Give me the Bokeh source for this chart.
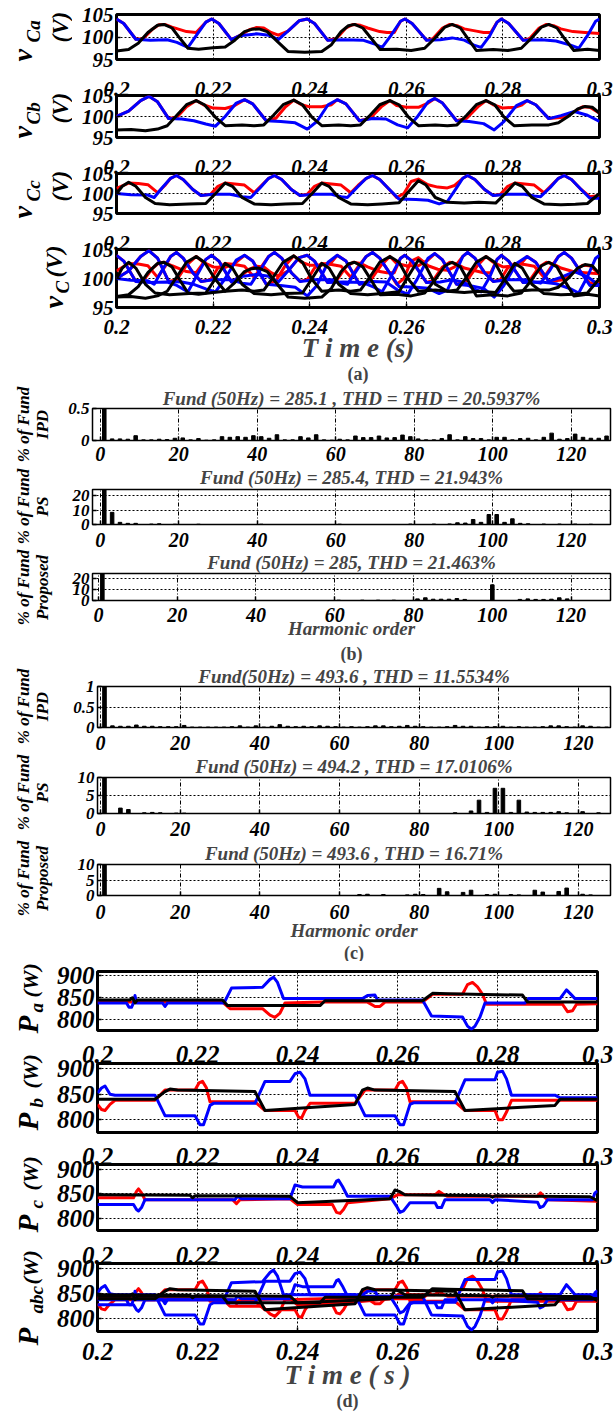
import math
from bokeh.plotting import figure
from bokeh.layouts import column, row
from bokeh.models import Range1d, FixedTicker, LinearAxis, Title
from bokeh.core.properties import value
from bokeh.embed import file_html
from bokeh.resources import INLINE

FONT = "Liberation Serif"
RED, BLUE, BLACK = "#ff0000", "#0000ff", "#000000"

# ---------------- (a) capacitor voltages ----------------
T_TICKS = [0.2, 0.22, 0.24, 0.26, 0.28, 0.3]
T_LABELS = ["0.2", "0.22", "0.24", "0.26", "0.28", "0.3"]

vca_blue_t = [0.200,0.2015,0.204,0.207,0.2105,0.2125,0.2148,0.2165,0.2185,0.2197,0.2212,0.2238,0.2255,0.229,0.2315,0.2335,0.2355,0.2378,0.2395,0.241,0.2437,0.247,0.251,0.2533,0.255,0.2568,0.2588,0.2597,0.2612,0.2642,0.267,0.2695,0.272,0.274,0.2755,0.2773,0.2788,0.2797,0.2812,0.2842,0.288,0.291,0.294,0.2957,0.2975,0.2992,0.300]
vca_blue_v = [104,103,99.5,99.3,99.4,98.8,97.7,100.3,103.3,104,103,99.4,100.3,100.7,100.4,99.4,101.3,103.6,104,103,99.3,99.4,99.3,98.5,97.7,100.3,103.5,104,103,99.3,99.4,99.8,99.3,98.2,97.7,100.3,103.3,104,103,99.3,99.4,99.1,98.2,97.5,100.3,103.5,104]
vca_red_t = [0.200,0.2015,0.204,0.2055,0.2075,0.2088,0.210,0.2115,0.213,0.2145,0.2165,0.2185,0.2197,0.2212,0.2238,0.2255,0.2275,0.229,0.2305,0.232,0.2335,0.2355,0.2378,0.2395,0.241,0.2437,0.2455,0.2475,0.249,0.2505,0.252,0.2545,0.256,0.2575,0.2588,0.2597,0.2612,0.2642,0.2655,0.2675,0.269,0.2705,0.272,0.2745,0.276,0.2775,0.2788,0.2797,0.2812,0.2842,0.2855,0.2875,0.289,0.2905,0.292,0.2945,0.297,0.300]
vca_red_v = [104,103,99.5,99.6,101.8,102.7,102.8,102.2,101.7,101.2,101.0,103.3,104,103,99.4,100.3,101.6,102.1,102.0,101.0,100.4,101.3,103.6,104,103,99.3,99.6,102.0,102.8,102.6,102.0,101.2,101.0,101.0,103.5,104,103,99.3,99.6,102.0,102.8,102.5,101.8,101.3,101.0,101.0,103.3,104,103,99.3,99.6,102.0,102.8,102.5,101.8,101.2,101.0,100.8]
vca_black_t = [0.200,0.2025,0.2045,0.2065,0.2085,0.2098,0.2115,0.2132,0.2148,0.217,0.220,0.2225,0.2245,0.2265,0.228,0.2295,0.2312,0.2335,0.2355,0.239,0.2425,0.2445,0.2465,0.248,0.2493,0.251,0.2528,0.2546,0.258,0.261,0.2638,0.2658,0.268,0.2695,0.2712,0.2728,0.2745,0.278,0.281,0.2838,0.2858,0.288,0.2895,0.2912,0.2928,0.2947,0.2975,0.300]
vca_black_v = [96.9,97.2,98.6,101.0,102.6,102.8,102.0,99.6,97.5,97.3,97.6,97.8,99.3,101.2,101.7,101.8,101.2,98.8,96.8,96.6,96.8,98.3,101.2,102.5,102.8,102.0,99.6,97.2,97.3,97.0,97.5,99.6,102.2,102.8,102.0,99.6,97.0,97.2,97.0,97.5,99.6,102.2,102.8,102.0,99.6,97.0,97.3,97.0]

vcb_blue_t = [0.200,0.2025,0.2050,0.2067,0.2085,0.2108,0.2135,0.216,0.2185,0.2205,0.2225,0.2248,0.2265,0.2282,0.231,0.234,0.237,0.2395,0.2415,0.2438,0.2457,0.2475,0.2503,0.253,0.2558,0.2582,0.2603,0.2622,0.2645,0.2659,0.2675,0.2704,0.273,0.276,0.2782,0.2802,0.2828,0.285,0.2868,0.2895,0.292,0.2948,0.2975,0.300]
vcb_blue_v = [100.0,101.3,103.8,104.8,103.5,99.5,99.4,99.0,98.2,97.7,100.0,103.2,104.0,103.0,99.0,98.8,98.5,97.0,98.8,102.8,104.0,103.0,99.0,99.5,99.4,98.0,97.3,99.8,103.5,104.3,103.2,99.0,98.8,98.3,96.8,98.8,102.6,103.8,102.8,99.5,100.2,101.2,100.3,98.8]
vcb_red_t = [0.200,0.2025,0.2050,0.2067,0.2085,0.2108,0.2125,0.2145,0.2165,0.218,0.220,0.2225,0.2243,0.2265,0.2282,0.231,0.233,0.235,0.2367,0.2383,0.240,0.2425,0.2445,0.2457,0.2475,0.2503,0.2525,0.2548,0.2566,0.258,0.260,0.2625,0.2645,0.2659,0.2675,0.2704,0.2725,0.2748,0.2765,0.278,0.280,0.2825,0.284,0.285,0.2868,0.2895,0.2925,0.295,0.2965,0.298,0.300]
vcb_red_v = [100.0,101.3,103.8,104.8,103.5,99.5,99.8,102.3,103.8,102.8,102.0,101.9,102.5,104.0,103.0,99.0,99.6,102.3,103.9,102.8,102.3,102.3,102.8,104.0,103.0,99.0,99.6,102.3,103.8,102.6,102.2,102.2,103.2,104.3,103.2,99.0,99.6,102.3,103.8,102.8,102.0,102.2,102.8,103.8,102.8,99.5,99.8,101.3,102.3,102.2,100.8]
vcb_black_t = [0.200,0.203,0.206,0.2085,0.2105,0.2125,0.2145,0.2165,0.2182,0.2205,0.2225,0.226,0.2285,0.2305,0.2325,0.2345,0.2367,0.2385,0.2405,0.2425,0.246,0.2485,0.2505,0.2525,0.2545,0.2566,0.2585,0.2605,0.2625,0.266,0.2685,0.2705,0.2725,0.2745,0.2765,0.2783,0.2803,0.2823,0.286,0.2895,0.2915,0.2935,0.2955,0.297,0.2985,0.300]
vcb_black_v = [96.8,96.9,96.6,97.0,97.8,100.3,102.8,103.8,102.8,99.8,97.8,98.0,97.8,98.0,100.3,102.8,103.9,102.8,99.8,97.8,98.0,97.8,98.0,100.3,102.8,103.8,102.8,99.8,97.8,98.0,97.8,98.0,100.3,102.8,103.8,102.8,99.8,97.8,98.0,98.0,98.5,100.0,101.8,102.4,102.2,100.8]

vcc_blue_t = [0.200,0.203,0.2065,0.2078,0.2095,0.2112,0.2124,0.2138,0.2158,0.2175,0.220,0.2235,0.226,0.2278,0.2298,0.2315,0.2327,0.2342,0.2362,0.238,0.241,0.2445,0.2465,0.2478,0.2498,0.2517,0.253,0.2545,0.2565,0.2585,0.262,0.2645,0.2668,0.2685,0.2703,0.2717,0.2727,0.2742,0.2762,0.278,0.281,0.2845,0.2865,0.2878,0.2898,0.2915,0.2927,0.2942,0.2962,0.298,0.300]
vcc_blue_v = [100.0,99.7,99.6,99.0,101.5,103.8,104.5,103.5,101.0,99.5,99.8,99.8,99.2,99.0,101.5,103.8,104.5,103.5,101.0,99.5,99.8,99.8,99.2,99.0,101.5,103.8,104.5,103.5,101.0,98.6,98.5,98.3,97.4,98.0,101.2,103.8,104.5,103.5,101.0,99.5,99.8,99.8,99.4,99.2,101.5,103.8,104.5,103.5,101.0,98.8,98.8]
vcc_red_t = [0.200,0.2025,0.2045,0.2065,0.2085,0.2100,0.2112,0.2124,0.2138,0.2158,0.2175,0.2195,0.2210,0.2225,0.2245,0.2265,0.2285,0.2300,0.2315,0.2327,0.2342,0.2362,0.2380,0.2395,0.2410,0.2425,0.2445,0.2465,0.2485,0.2500,0.2517,0.2530,0.2545,0.2565,0.2580,0.2595,0.2610,0.2625,0.2645,0.2665,0.2685,0.2700,0.2717,0.2727,0.2742,0.2762,0.2780,0.2795,0.2810,0.2825,0.2845,0.2865,0.2885,0.2900,0.2915,0.2927,0.2942,0.2962,0.2980,0.3000]
vcc_red_v = [101.3,102.6,102.5,102.2,100.2,102.0,103.8,104.5,103.5,101.0,99.5,99.8,101.8,102.6,102.4,102.1,100.2,102.0,103.8,104.5,103.5,101.0,99.5,99.8,101.8,102.6,102.4,102.1,100.2,102.0,103.8,104.5,103.5,101.0,99.0,100.0,103.0,103.6,102.2,101.6,101.4,102.0,103.8,104.5,103.5,101.0,99.5,99.8,101.8,102.6,102.4,102.1,100.2,102.0,103.8,104.5,103.5,101.0,99.2,99.5]
vcc_black_t = [0.200,0.2012,0.2025,0.2040,0.2060,0.2080,0.2110,0.2150,0.2185,0.2205,0.2225,0.2240,0.2260,0.2285,0.2320,0.2350,0.2385,0.2405,0.2425,0.2440,0.2460,0.2485,0.2520,0.2550,0.2585,0.2605,0.2625,0.2640,0.2660,0.2685,0.2720,0.2750,0.2785,0.2805,0.2825,0.2840,0.2860,0.2885,0.2920,0.2950,0.2975,0.2990,0.3000]
vcc_black_v = [100.0,101.8,102.8,101.8,99.0,97.5,97.2,97.4,97.5,100.0,102.6,101.8,99.0,97.4,97.2,97.4,97.5,100.0,102.6,101.8,99.0,97.4,97.2,97.4,97.7,100.5,103.2,102.2,99.0,97.8,97.6,97.8,97.6,100.0,102.6,101.8,99.0,97.4,97.2,97.3,97.5,99.0,100.0]

# ---------------- (b) / (c) harmonic spectra ----------------
H_TICKS = [0, 20, 40, 60, 80, 100, 120]
ipd_b_h = [1,3,5,7,9,11,13,15,17,19,21,23,25,27,29,31,33,35,37,39,41,43,45,47,49,51,53,55,57,59,61,63,65,67,69,71,73,75,77,79,81,83,85,87,89,91,93,95,97,99,101,103,105,107,109,111,113,115,117,119,121,123,125,127,129]
ipd_b_v = [100,.025,.025,.02,.075,.01,.01,.02,.015,.035,.04,.01,.03,.005,.01,.06,.05,.06,.05,.075,.06,.035,.09,.01,.01,.06,.04,.09,.01,.005,.02,.01,.07,.045,.045,.07,.04,.045,.085,.06,.025,.01,.01,.03,.09,.01,.06,.03,.03,.01,.05,.05,.01,.03,.035,.01,.05,.115,.02,.03,.1,.05,.035,.035,.07]
ps_b_h = [1,3,5,7,9,13,15,19,25,41,61,79,85,89,91,93,95,97,99,101,103,105,107,109,113,117,121,125]
ps_b_v = [100,8.5,1.5,0.8,0.8,0.3,0.5,0.2,0.2,0.2,0.2,0.3,0.3,0.4,1.2,1.0,3.5,1.5,7.0,7.0,1.5,4.0,0.8,0.5,0.3,0.3,0.3,0.2]
pr_b_h = [1,61,67,71,75,81,83,85,87,89,91,93,100,107,109,111,113,115,117,119]
pr_b_v = [100,0.3,0.3,0.3,0.3,1.5,2.5,1.2,1.2,1.2,1.8,1.0,14.5,1.0,1.5,1.0,1.0,1.2,2.5,1.5]
ipd_c_h = [1,3,5,7,9,11,13,15,17,19,21,23,25,27,29,31,33,35,37,39,41,43,45,47,49,51,53,55,57,59,61,63,65,67,69,71,73,75,77,79,81,83,85,87,89,91,93,95,97,99,101,103,105,107,109,111,113,115,117,119,121,123,125,127,129]
ipd_c_v = [100,.04,.03,.03,.06,.03,.03,.02,.02,.02,.05,.01,.01,.01,.01,.01,.02,.04,.01,.04,.01,.03,.07,.03,.02,.03,.02,.04,.03,.02,.01,.02,.01,.02,.04,.04,.02,.03,.05,.03,.02,.01,.01,.02,.05,.03,.03,.01,.02,.02,.03,.01,.02,.01,.01,.02,.04,.04,.02,.01,.04,.03,.01,.01,.06]
ps_c_h = [1,5,7,11,13,15,19,21,89,93,95,97,99,101,103,105,107,109,111,113,115,117,121,125]
ps_c_v = [100,1.5,1.1,0.2,0.3,0.2,0.1,0.1,0.2,0.7,3.7,0.3,7.0,7.0,0.3,3.7,0.4,0.3,0.3,0.3,0.5,0.2,0.5,0.2]
pr_c_h = [1,65,67,71,77,79,81,85,87,91,93,97,99,103,105,109,111,115,117,121,123,129]
pr_c_v = [100,0.3,0.4,0.3,0.2,0.4,0.3,2.3,1.2,1.0,1.7,0.3,0.4,0.3,0.2,1.7,1.1,1.3,2.4,0.4,0.2,0.3]

# ---------------- (d) powers ----------------
P_TICKS = [800, 850, 900]
pa_black_t = [0.200,0.2065,0.2070,0.2075,0.2080,0.2250,0.2260,0.2445,0.2455,0.2650,0.2670,0.2700,0.2850,0.2860,0.300]
pa_black_v = [845,845,850,838,845,845,832,832,843,843,860,859,856,840,840]
pa_red_t = [0.200,0.2250,0.2265,0.2330,0.2345,0.2355,0.2365,0.2375,0.2450,0.2540,0.2555,0.2565,0.2575,0.2650,0.2670,0.2730,0.2740,0.2750,0.2760,0.2770,0.2778,0.2930,0.2940,0.2950,0.2958,0.300]
pa_red_v = [840,840,825,825,810,805,815,838,840,840,830,830,840,840,858,858,880,885,875,858,835,835,818,820,835,836]
pa_blue_t = [0.200,0.2058,0.2063,0.2068,0.2072,0.2075,0.2078,0.2130,0.2135,0.2140,0.2253,0.2268,0.2330,0.2345,0.2352,0.2360,0.2372,0.2530,0.2540,0.2555,0.2560,0.2650,0.2668,0.2730,0.2740,0.2748,0.2755,0.2765,0.2775,0.2855,0.2862,0.2925,0.2938,0.2945,0.2955,0.300]
pa_blue_v = [838,838,828,828,838,855,838,838,830,838,838,872,874,892,897,885,848,848,855,856,845,845,808,806,785,778,785,806,838,838,848,848,868,860,848,848]
pb_blue_t = [0.200,0.2008,0.2015,0.2025,0.2035,0.2115,0.2135,0.2195,0.2205,0.2212,0.2225,0.2232,0.2315,0.2335,0.2385,0.2395,0.2405,0.2415,0.2425,0.2515,0.2535,0.2595,0.2605,0.2612,0.2625,0.2632,0.2715,0.2735,0.2795,0.2800,0.2810,0.2818,0.2828,0.2915,0.2925,0.300]
pb_blue_v = [852,862,866,850,848,848,808,808,790,790,828,832,832,875,875,890,893,880,848,848,808,808,790,790,830,833,833,878,878,893,895,880,848,848,843,843]
pb_red_t = [0.200,0.2008,0.2015,0.2025,0.2035,0.2115,0.2135,0.2195,0.2203,0.2210,0.2218,0.2225,0.2315,0.2335,0.2395,0.2402,0.2408,0.2415,0.2425,0.2515,0.2535,0.2595,0.2603,0.2610,0.2618,0.2625,0.2715,0.2735,0.2795,0.2802,0.2810,0.2818,0.2828,0.300]
pb_red_v = [830,820,818,830,838,838,858,858,872,875,862,835,835,818,818,805,803,818,832,832,858,858,872,875,862,835,835,818,818,800,800,815,838,838]
pb_black_t = [0.200,0.2115,0.2135,0.2145,0.2160,0.2315,0.2335,0.2515,0.2530,0.2540,0.2555,0.2715,0.2735,0.2915,0.2925,0.300]
pb_black_v = [840,840,855,860,858,855,818,830,858,862,858,855,818,828,840,840]
pc_black_t = [0.200,0.2185,0.2190,0.2195,0.2385,0.2400,0.2585,0.2595,0.2603,0.2615,0.2785,0.2790,0.2795,0.2985,0.300]
pc_black_v = [848,847,842,846,845,832,840,858,855,848,846,843,846,844,836]
pc_red_t = [0.200,0.2072,0.2078,0.2082,0.2088,0.2095,0.2270,0.2278,0.2285,0.2385,0.2400,0.2470,0.2478,0.2485,0.2492,0.2500,0.2585,0.2600,0.2675,0.2683,0.2690,0.2700,0.2880,0.2886,0.2892,0.2900,0.300]
pc_red_v = [842,842,855,860,852,838,838,830,838,840,828,828,812,810,818,832,840,848,848,855,850,845,845,852,845,838,835]
pc_blue_t = [0.200,0.2072,0.2078,0.2082,0.2088,0.2095,0.2275,0.2280,0.2288,0.2385,0.2395,0.2410,0.2472,0.2478,0.2482,0.2490,0.2500,0.2585,0.2598,0.2605,0.2612,0.2625,0.2675,0.2680,0.2688,0.2695,0.2785,0.2790,0.2795,0.2880,0.2885,0.2892,0.2900,0.2990,0.2995,0.300]
pc_blue_v = [828,828,818,815,822,838,838,845,840,840,868,864,864,876,878,865,845,845,825,812,815,832,832,822,822,838,838,832,838,833,822,825,838,838,852,856]


def style_text_axis(ax, size, standoff):
    ax.axis_line_color = None
    ax.major_tick_in = 4
    ax.major_tick_out = 0
    ax.major_tick_line_color = "black"
    ax.major_tick_line_width = 1.5
    ax.minor_tick_line_color = None
    ax.major_label_text_font = FONT
    ax.major_label_text_font_style = "bold italic"
    ax.major_label_text_font_size = f"{size}px"
    ax.major_label_text_color = "black"
    ax.major_label_standoff = standoff


def base_fig(w, h, top, bottom, left, right, xr, yr):
    p = figure(width=w, height=h, x_range=Range1d(*xr), y_range=Range1d(*yr),
               output_backend="svg", toolbar_location=None,
               min_border_top=top, min_border_bottom=bottom,
               min_border_left=left, min_border_right=right)
    p.background_fill_color = "white"
    p.border_fill_color = "white"
    p.outline_line_color = "black"
    return p


def label_fig(w, h, items):
    """Column of rotated y-axis label texts (positions in pixels from the panel top-left)."""
    p = figure(width=w, height=h, x_range=Range1d(0, w), y_range=Range1d(0, h),
               output_backend="svg", toolbar_location=None,
               x_axis_location=None, y_axis_location=None, min_border=0)
    p.grid.visible = False
    p.outline_line_color = None
    p.background_fill_color = "white"
    p.border_fill_color = "white"
    for (txt, x, y, size, align) in items:
        p.text(x=[x], y=[h - y], text=[txt], angle=math.pi / 2,
               text_font=value(FONT), text_font_style="bold italic",
               text_font_size=value(f"{size}px"), text_align=align,
               text_baseline="alphabetic", text_color="black")
    return p


def time_fig(w, h, top, bottom, left, right, yr, yticks, tick_px, ytick_px, curves,
             above_standoff=None, below_standoff=None, xlabel=None, xlabel_px=26,
             xlabel_standoff=0, caption=None, caption_standoff=0):
    p = base_fig(w, h, top, bottom, left, right, (0.2, 0.3), yr)
    p.outline_line_width = 3
    xt = FixedTicker(ticks=T_TICKS)
    overrides = dict(zip(T_TICKS, T_LABELS))
    p.xaxis.ticker = xt
    p.xaxis.major_label_overrides = overrides
    p.xgrid.ticker = xt
    style_text_axis(p.xaxis[0], tick_px, below_standoff if below_standoff is not None else 0)
    if below_standoff is None:
        p.xaxis.visible = False
    if xlabel:
        p.xaxis.axis_label = xlabel
        p.xaxis.axis_label_text_font = FONT
        p.xaxis.axis_label_text_font_style = "bold italic"
        p.xaxis.axis_label_text_font_size = f"{xlabel_px}px"
        p.xaxis.axis_label_standoff = xlabel_standoff
    if above_standoff is not None:
        ax = LinearAxis(ticker=FixedTicker(ticks=T_TICKS), major_label_overrides=overrides)
        style_text_axis(ax, tick_px, above_standoff)
        ax.major_tick_in = 0
        p.add_layout(ax, "above")
    yt = FixedTicker(ticks=yticks)
    p.yaxis.ticker = yt
    p.ygrid.ticker = yt
    style_text_axis(p.yaxis[0], ytick_px, 3)
    for g in (p.xgrid[0], p.ygrid[0]):
        g.grid_line_color = "black"
        g.grid_line_dash = "2 2"
        g.grid_line_width = 1
        g.grid_line_alpha = 1
    for (t, v, c) in curves:
        p.line(t, v, line_color=c, line_width=3, line_join="round")
    if caption:
        p.add_layout(Title(text=caption, align="center", text_font=FONT,
                           text_font_style="bold", text_font_size="18px",
                           standoff=caption_standoff), "below")
    return p


def bar_fig(w, h, top, bottom, left, xr, yr, yticks, ylabels, title, title_standoff,
            hs, vs, tick_standoff, xlabel=None, xlabel_standoff=0, caption=None,
            caption_standoff=0):
    p = base_fig(w, h, top, bottom, left, 4, xr, yr)
    p.outline_line_width = 1.5
    p.title.text = title
    p.title.align = "center"
    p.title.text_font = FONT
    p.title.text_font_style = "bold italic"
    p.title.text_font_size = "19px"
    p.title.standoff = title_standoff
    xt = FixedTicker(ticks=H_TICKS)
    p.xaxis.ticker = xt
    p.xgrid.ticker = xt
    style_text_axis(p.xaxis[0], 20, tick_standoff)
    yt = FixedTicker(ticks=yticks)
    p.yaxis.ticker = yt
    p.ygrid.ticker = yt
    p.yaxis.major_label_overrides = dict(zip(yticks, ylabels))
    style_text_axis(p.yaxis[0], 17, 3)
    p.xgrid.grid_line_dash = "4 2 1 2"
    p.ygrid.grid_line_dash = "2 2"
    for g in (p.xgrid[0], p.ygrid[0]):
        g.grid_line_color = "black"
        g.grid_line_width = 1
        g.grid_line_alpha = 1
    p.vbar(x=hs, top=vs, bottom=0, width=0.9, fill_color="black", line_color="black")
    if xlabel:
        p.xaxis.axis_label = xlabel
        p.xaxis.axis_label_text_font = FONT
        p.xaxis.axis_label_text_font_style = "bold italic"
        p.xaxis.axis_label_text_font_size = "19px"
        p.xaxis.axis_label_standoff = xlabel_standoff
    if caption:
        p.add_layout(Title(text=caption, align="center", text_font=FONT,
                           text_font_style="bold", text_font_size="18px",
                           standoff=caption_standoff), "below")
    return p


def by_colour(groups):
    out = []
    for col in (RED, BLUE, BLACK):
        out += [c for g in groups for c in g if c[2] == col]
    return out


VA = [(vca_red_t, vca_red_v, RED), (vca_blue_t, vca_blue_v, BLUE), (vca_black_t, vca_black_v, BLACK)]
VB = [(vcb_red_t, vcb_red_v, RED), (vcb_blue_t, vcb_blue_v, BLUE), (vcb_black_t, vcb_black_v, BLACK)]
VC = [(vcc_red_t, vcc_red_v, RED), (vcc_blue_t, vcc_blue_v, BLUE), (vcc_black_t, vcc_black_v, BLACK)]
PA = [(pa_red_t, pa_red_v, RED), (pa_blue_t, pa_blue_v, BLUE), (pa_black_t, pa_black_v, BLACK)]
PB = [(pb_red_t, pb_red_v, RED), (pb_blue_t, pb_blue_v, BLUE), (pb_black_t, pb_black_v, BLACK)]
PC = [(pc_red_t, pc_red_v, RED), (pc_blue_t, pc_blue_v, BLUE), (pc_black_t, pc_black_v, BLACK)]

# ---------- panel (a) ----------
LA = 72
WA = 614 - LA
VY = (95, 105)
VT = [95, 100, 105]
a1 = time_fig(WA, 71, 14, 12, 44, 15, VY, VT, 21, 21, VA)
a2 = time_fig(WA, 78, 24, 12, 44, 15, VY, VT, 21, 21, VB, above_standoff=0)
a3 = time_fig(WA, 76, 24, 12, 44, 15, VY, VT, 21, 21, VC, above_standoff=0)
a4 = time_fig(WA, 160, 24, 78, 44, 15, VY, VT, 21, 21, by_colour([VA, VB, VC]),
              above_standoff=0, below_standoff=12, xlabel="T i m e (s)", xlabel_px=27,
              xlabel_standoff=-4, caption="(a)", caption_standoff=-7)
labA = label_fig(LA, 385, [
    ("v", 22, 61, 28, "left"), ("Ca", 33, 42, 19, "left"), ("(V)", 60, 42, 23, "left"),
    ("v", 22, 138, 28, "left"), ("Cb", 33, 124, 19, "left"), ("(V)", 60, 123, 23, "left"),
    ("v", 22, 218, 28, "left"), ("Cc", 33, 201, 19, "left"), ("(V)", 60, 201, 23, "left"),
    ("v", 53, 308, 28, "left"), ("C", 62, 293, 19, "left"), ("(V)", 53, 277, 24, "left"),
])

# ---------- panel (b) ----------
LB = 60
WB = 614 - LB
b1 = bar_fig(WB, 78, 22, 23, 28, (-2, 130), (0, 0.5), [0, 0.5], ["0", "0.5"],
             "Fund (50Hz) = 285.1 , THD = THD = 20.5937%", 0, ipd_b_h, ipd_b_v, 6)
b2 = bar_fig(WB, 86, 25, 25, 28, (-2, 130), (0, 24.5), [0, 10, 20], ["0", "10", "20"],
             "Fund (50Hz) = 285.4, THD = 21.943%", 3, ps_b_h, ps_b_v, 8)
b3 = bar_fig(WB, 114, 23, 61, 32, (-1.5, 130), (0, 25), [0, 10, 20], ["0", "10", "20"],
             "Fund (50Hz) = 285, THD = 21.463%", 1, pr_b_h, pr_b_v, 7,
             xlabel="Harmonic order", xlabel_standoff=-7, caption="(b)", caption_standoff=0)
B0 = 385
labB = label_fig(LB, 278, [
    ("% of Fund", 23, 424 - B0, 17, "center"), ("IPD", 42, 424 - B0, 17, "center"),
    ("% of Fund", 23, 506 - B0, 17, "center"), ("PS", 42, 506 - B0, 17, "center"),
    ("% of Fund", 23, 587 - B0, 17, "center"), ("Proposed", 42, 587 - B0, 17, "center"),
])

# ---------- panel (c) ----------
LC = 60
WC = 614 - LC
c1 = bar_fig(WC, 89, 21, 24, 37, (-0.75, 128), (0, 1), [0, 0.5, 1], ["0", "0.5", "1"],
             "Fund(50Hz) = 493.6 , THD = 11.5534%", 0, ipd_c_h, ipd_c_v, 8)
c2 = bar_fig(WC, 88, 20, 27, 37, (-0.75, 128), (0, 10), [0, 5, 10], ["0", "5", "10"],
             "Fund (50Hz) = 494.2 , THD = 17.0106%", 2, ps_c_h, ps_c_v, 8)
c3 = bar_fig(WC, 121, 22, 66, 37, (-0.75, 128), (0, 10), [0, 5, 10], ["0", "5", "10"],
             "Fund (50Hz) = 493.6 , THD = 16.71%", 1, pr_c_h, pr_c_v, 9,
             xlabel="Harmonic order", xlabel_standoff=-2, caption="(c)", caption_standoff=-6)
C0 = 663
labC = label_fig(LC, 298, [
    ("% of Fund", 23, 706 - C0, 17, "center"), ("IPD", 42, 706 - C0, 17, "center"),
    ("% of Fund", 23, 792 - C0, 17, "center"), ("PS", 42, 792 - C0, 17, "center"),
    ("% of Fund", 23, 878 - C0, 17, "center"), ("Proposed", 42, 878 - C0, 17, "center"),
])

# ---------- panel (d) ----------
LD = 52
WD = 614 - LD
PY = (775, 910)
d1 = time_fig(WD, 73, 10, 4, 45, 17, PY, P_TICKS, 25, 25, PA)
d2 = time_fig(WD, 102, 29, 4, 45, 17, PY, P_TICKS, 25, 25, PB, above_standoff=1)
d3 = time_fig(WD, 98, 28, 4, 45, 17, PY, P_TICKS, 25, 25, PC, above_standoff=0)
d4 = time_fig(WD, 177, 29, 80, 45, 17, PY, P_TICKS, 25, 25, by_colour([PA, PB, PC]),
              above_standoff=0, below_standoff=11, xlabel="T i m e ( s )", xlabel_px=27,
              xlabel_standoff=-3, caption="(d)", caption_standoff=-8)
D0 = 961
labD = label_fig(LD, 450, [
    ("P", 27, 1033 - D0, 29, "left"), ("a", 36, 1012 - D0, 19, "left"), ("(W)", 30, 997 - D0, 22, "left"),
    ("P", 27, 1130 - D0, 29, "left"), ("b", 36, 1107 - D0, 19, "left"), ("(W)", 30, 1088 - D0, 22, "left"),
    ("P", 27, 1232 - D0, 29, "left"), ("c", 36, 1208 - D0, 19, "left"), ("(W)", 30, 1190 - D0, 22, "left"),
    ("P", 27, 1345 - D0, 29, "left"), ("abc", 36, 1313 - D0, 19, "left"), ("(W)", 30, 1284 - D0, 22, "left"),
])

layout = column(
    row(labA, column(a1, a2, a3, a4, spacing=0), spacing=0),
    row(labB, column(b1, b2, b3, spacing=0), spacing=0),
    row(labC, column(c1, c2, c3, spacing=0), spacing=0),
    row(labD, column(d1, d2, d3, d4, spacing=0), spacing=0),
    spacing=0,
)
open("out.html", "w").write(file_html(layout, INLINE))
